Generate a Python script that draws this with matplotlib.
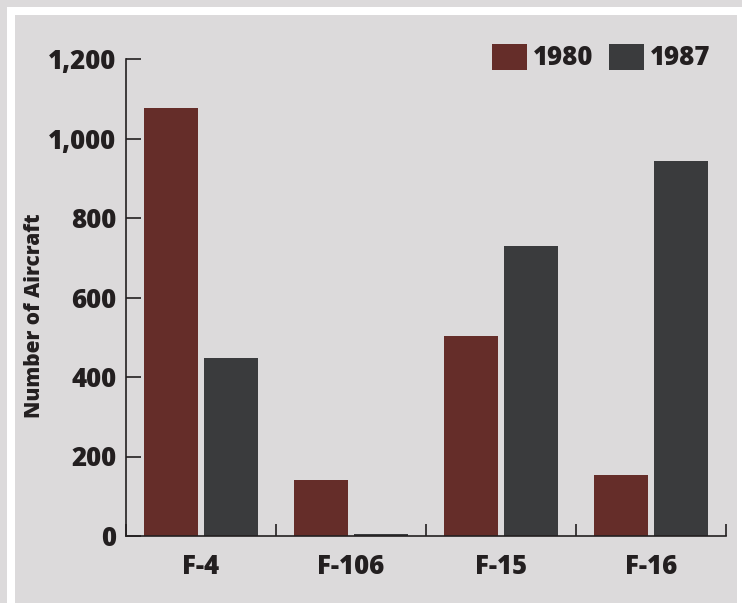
import numpy as np
import matplotlib
matplotlib.use("Agg")
import matplotlib.pyplot as plt
from matplotlib.patches import Rectangle, Patch
from matplotlib.ticker import FuncFormatter

# data
aircraft = ["F-4", "F-106", "F-15", "F-16"]
years = ["1980", "1987"]
counts_1980 = [1077, 141, 503, 153]
counts_1987 = [448, 4, 730, 943]
yticks = [0, 200, 400, 600, 800, 1000, 1200]

col_1980 = "#652d29"
col_1987 = "#3a3b3d"
bg = "#dcdadb"
txt = "#231f20"
fw = 800

plt.rcParams['font.family'] = ['Open Sans', 'DejaVu Sans']
plt.rcParams['font.weight'] = fw

W, H = 742, 603
fig = plt.figure(figsize=(W / 100, H / 100), dpi=100)
fig.patch.set_facecolor(bg)
# white frame and inner panel
fig.add_artist(Rectangle((7 / W, 0), 1, 1 - 7 / H, transform=fig.transFigure,
                         facecolor="white", edgecolor="none", zorder=0))
fig.add_artist(Rectangle((15 / W, 0), (737 - 15) / W, 1 - 15 / H, transform=fig.transFigure,
                         facecolor=bg, edgecolor="none", zorder=0))

ax = fig.add_axes([126 / W, (H - 536) / H, (726 - 126) / W, (536 - 59) / H])
ax.set_facecolor("none")

x = np.arange(len(aircraft))
w = 0.36
ax.bar(x - 0.2, counts_1980, w, color=col_1980, zorder=2)
ax.bar(x + 0.2, counts_1987, w, color=col_1987, zorder=2)

ax.set_xlim(-0.5, 3.5)
ax.set_ylim(0, 1200)
ax.set_yticks(yticks)
ax.yaxis.set_major_formatter(FuncFormatter(lambda v, p: f"{int(v):,}"))
ax.set_xticks(x)
ax.set_xticklabels(aircraft)
ax.set_xticks(np.arange(-0.5, 4, 1), minor=True)

for s in ["top", "right"]:
    ax.spines[s].set_visible(False)
for s in ["left", "bottom"]:
    ax.spines[s].set_color(txt)
    ax.spines[s].set_linewidth(1.2)
    ax.spines[s].set_zorder(3)

ax.tick_params(axis="y", direction="in", length=10.8, width=1.2, color=txt,
               labelsize=18.5, labelcolor=txt, pad=7)
ax.tick_params(axis="x", which="major", length=0, labelsize=18.5, labelcolor=txt, pad=13)
ax.tick_params(axis="x", which="minor", direction="in", length=8.6, width=1.2, color=txt)
for lab in ax.get_xticklabels() + ax.get_yticklabels():
    lab.set_fontweight(fw)

fig.text(35 / W, 1 - 315.5 / H, "Number of Aircraft", rotation=90, ha="center", va="center",
         fontsize=15, fontweight=fw, color=txt)

handles = [Patch(facecolor=col_1980), Patch(facecolor=col_1987)]
leg = fig.legend(handles, years, loc="upper left", bbox_to_anchor=(492 / W, 1 - 44 / H),
                 ncol=2, frameon=False, fontsize=18.5, handlelength=1.36, handleheight=1.15,
                 handletextpad=0.23, columnspacing=0.62, borderpad=0, borderaxespad=0)
for t in leg.get_texts():
    t.set_fontweight(fw)
    t.set_color(txt)

fig.savefig("out.png", dpi=100, facecolor=fig.get_facecolor())
